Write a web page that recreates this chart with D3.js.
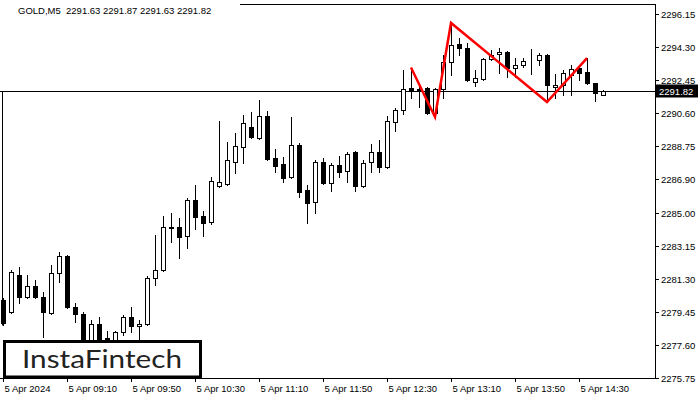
<!DOCTYPE html>
<html><head><meta charset="utf-8">
<script src="https://cdn.jsdelivr.net/npm/d3@7"></script>
<style>html,body{margin:0;padding:0;background:#fff;}svg{display:block;}</style>
</head><body>
<script>
const symbolTitle = "GOLD,M5  2291.63 2291.87 2291.63 2291.82";
const open = [2280.12,2279.45,2281.52,2280.29,2280.90,2280.29,2279.39,2281.63,2282.59,2279.73,
 2279.33,2277.60,2278.78,2277.99,2277.88,2278.33,2279.17,2278.66,2278.78,2281.35,
 2281.80,2284.21,2284.21,2283.71,2285.72,2284.83,2284.49,2286.51,2286.62,2287.85,
 2288.70,2289.82,2289.20,2290.43,2288.08,2287.74,2287.01,2288.81,2286.28,2285.61,
 2287.85,2286.68,2287.69,2287.35,2288.42,2286.51,2287.85,2288.42,2287.57,2290.10,
 2290.77,2292.00,2291.95,2292.00,2290.60,2291.95,2293.46,2294.47,2294.24,2292.34,
 2292.51,2293.63,2293.91,2294.02,2293.12,2293.29,2293.52,2293.57,2293.85,2292.06,
 2292.17,2292.73,2293.12,2292.90,2292.28,2291.63];
const high = [2280.23,2281.80,2281.97,2281.52,2281.24,2280.57,2282.08,2282.81,2282.64,2279.95,
 2279.45,2279.00,2279.17,2278.38,2278.38,2279.28,2279.73,2279.00,2281.47,2283.76,
 2284.83,2285.00,2284.72,2285.84,2286.57,2285.11,2287.01,2290.15,2288.98,2289.48,
 2290.49,2290.66,2291.33,2290.71,2288.58,2288.13,2290.38,2288.92,2286.57,2287.97,
 2288.08,2287.80,2288.19,2288.42,2288.47,2287.97,2288.86,2289.09,2290.43,2290.88,
 2293.01,2293.12,2292.06,2292.06,2292.00,2293.85,2295.65,2294.80,2294.50,2293.01,
 2293.68,2294.13,2294.24,2294.08,2293.68,2293.68,2294.19,2293.96,2293.90,2292.79,
 2293.01,2293.29,2293.24,2293.68,2292.30,2291.87];
const low = [2278.72,2279.40,2279.95,2280.23,2280.23,2278.05,2279.33,2281.13,2279.67,2278.89,
 2277.04,2277.43,2277.20,2277.43,2277.60,2278.16,2278.33,2277.60,2278.72,2280.96,
 2281.75,2283.37,2282.47,2283.03,2284.10,2283.71,2284.38,2286.45,2286.57,2287.24,
 2287.80,2289.20,2289.14,2287.97,2287.29,2286.73,2286.96,2285.89,2284.44,2285.00,
 2286.62,2286.23,2287.01,2286.73,2286.23,2286.45,2287.29,2287.29,2287.52,2289.59,
 2290.54,2291.44,2290.94,2290.54,2290.38,2291.44,2292.73,2293.85,2292.40,2292.11,
 2292.45,2293.60,2292.84,2292.62,2292.62,2293.18,2292.79,2293.29,2291.22,2291.44,
 2291.61,2291.61,2292.45,2292.25,2291.27,2291.63];
const close = [2278.83,2281.69,2280.29,2280.90,2280.29,2279.45,2281.63,2282.59,2279.73,2279.33,
 2277.32,2278.78,2277.43,2277.82,2278.33,2279.17,2278.66,2278.78,2281.35,2281.80,
 2284.21,2284.18,2283.65,2285.72,2284.77,2284.44,2286.79,2286.73,2287.97,2288.75,
 2290.04,2289.26,2290.43,2288.02,2287.63,2286.96,2288.81,2286.17,2285.56,2287.85,
 2286.68,2287.69,2287.29,2288.30,2286.51,2287.80,2288.42,2287.57,2290.15,2290.77,
 2291.95,2291.89,2291.89,2290.60,2291.95,2293.46,2294.41,2294.24,2292.45,2292.56,
 2293.63,2293.85,2294.02,2293.12,2293.29,2293.52,2293.49,2293.85,2292.17,2292.17,
 2292.84,2293.07,2292.84,2292.28,2291.72,2291.82];
const priceTicks = [2296.15,2294.30,2292.45,2290.60,2288.75,2286.90,2285.00,2283.15,2281.30,2279.45,2277.60,2275.75];
const timeTickIdx = [0,8,16,24,32,40,48,56,64,72];
const timeTickLabels = ["5 Apr 2024","5 Apr 09:10","5 Apr 09:50","5 Apr 10:30","5 Apr 11:10","5 Apr 11:50","5 Apr 12:30","5 Apr 13:10","5 Apr 13:50","5 Apr 14:30"];
const patternIdx = [51,54,56,68,73];
const patternPrice = [2293.15,2290.38,2295.65,2291.22,2293.68];
const currentPrice = 2291.82;
const logoText = "InstaFintech";

const W = 700, H = 400;
const plotRight = 655, plotBottom = 378;
const font = "'Liberation Sans', Arial, sans-serif";

const x = d3.scaleLinear().domain([0, 75]).range([3, 603]);
const y = d3.scaleLinear().domain([2275.75, 2296.15]).range([378, 14]);
const px = v => Math.round(v) + 0.5;

const svg = d3.select("body").append("svg").attr("width", W).attr("height", H);
svg.append("rect").attr("width", W).attr("height", H).attr("fill", "#fff");

// frame
svg.append("line").attr("x1", 240).attr("x2", plotRight + 1).attr("y1", 4.5).attr("y2", 4.5).attr("stroke", "#000");
svg.append("line").attr("x1", plotRight + 0.5).attr("x2", plotRight + 0.5).attr("y1", 4).attr("y2", plotBottom + 1).attr("stroke", "#000");
svg.append("line").attr("x1", 0).attr("x2", plotRight + 1).attr("y1", plotBottom + 0.5).attr("y2", plotBottom + 0.5).attr("stroke", "#000");
svg.append("line").attr("x1", 2.5).attr("x2", 2.5).attr("y1", px(y(currentPrice))).attr("y2", px(y(low[0]))).attr("stroke", "#000");

// title
svg.append("text").attr("x", 18).attr("y", 14).attr("font-family", font).attr("font-size", 9.5)
  .attr("fill", "#000").style("white-space", "pre").attr("xml:space", "preserve").text(symbolTitle);

// price axis
const pa = svg.append("g");
priceTicks.forEach(t => {
  const yy = px(y(t));
  pa.append("line").attr("x1", plotRight).attr("x2", plotRight + 4).attr("y1", yy).attr("y2", yy).attr("stroke", "#000");
  pa.append("text").attr("x", 661).attr("y", yy + 3.5).attr("font-family", font).attr("font-size", 9.5)
    .attr("fill", "#000").text(t.toFixed(2));
});

// time axis
const ta = svg.append("g");
timeTickIdx.forEach((idx, k) => {
  const xx = px(x(idx));
  ta.append("line").attr("x1", xx).attr("x2", xx).attr("y1", plotBottom).attr("y2", plotBottom + 4).attr("stroke", "#000");
  ta.append("text").attr("x", xx + 1).attr("y", 392).attr("font-family", font).attr("font-size", 9.5)
    .attr("fill", "#000").text(timeTickLabels[k]);
});

// current price line
svg.append("line").attr("x1", 0).attr("x2", plotRight).attr("y1", px(y(currentPrice))).attr("y2", px(y(currentPrice)))
  .attr("stroke", "#000");

// candles
const candles = d3.range(open.length).map(i => ({i, o: open[i], h: high[i], l: low[i], c: close[i]}));
const cg = svg.append("g");
candles.forEach(d => {
  const cx = Math.round(x(d.i));
  cg.append("line").attr("x1", cx + 0.5).attr("x2", cx + 0.5)
    .attr("y1", Math.round(y(d.h))).attr("y2", Math.round(y(d.l)) + 1).attr("stroke", "#000");
  const top = Math.round(y(Math.max(d.o, d.c)));
  const bot = Math.round(y(Math.min(d.o, d.c)));
  const bull = d.c >= d.o;
  cg.append("rect").attr("x", cx - 2 + 0.5).attr("width", 4)
    .attr("y", top + 0.5).attr("height", Math.max(0, bot - top))
    .attr("fill", bull ? "#fff" : "#000").attr("stroke", "#000").attr("stroke-width", 1);
});

// pattern zigzag
const line = d3.line().x(d => x(d[0])).y(d => y(d[1]));
svg.append("path").attr("d", line(patternIdx.map((v, k) => [v, patternPrice[k]])))
  .attr("fill", "none").attr("stroke", "#ff0000").attr("stroke-width", 2.5).attr("stroke-linejoin", "miter");

// current price label
const cpy = px(y(currentPrice));
svg.append("rect").attr("x", 656).attr("y", cpy - 7).attr("width", 42).attr("height", 13).attr("fill", "#000");
svg.append("text").attr("x", 659).attr("y", cpy + 3.5).attr("font-family", font).attr("font-size", 9.5)
  .attr("fill", "#fff").text(currentPrice.toFixed(2));

// logo
svg.append("rect").attr("x", 4.5).attr("y", 341.5).attr("width", 196).attr("height", 35.5)
  .attr("fill", "#fff").attr("stroke", "#000").attr("stroke-width", 3);
svg.append("text").attr("x", 22).attr("y", 368).attr("font-family", "Lato, 'Open Sans', sans-serif")
  .attr("font-size", 25).attr("font-weight", 400).attr("fill", "#222")
  .attr("textLength", 160).attr("lengthAdjust", "spacingAndGlyphs").text(logoText);
</script>
</body></html>
